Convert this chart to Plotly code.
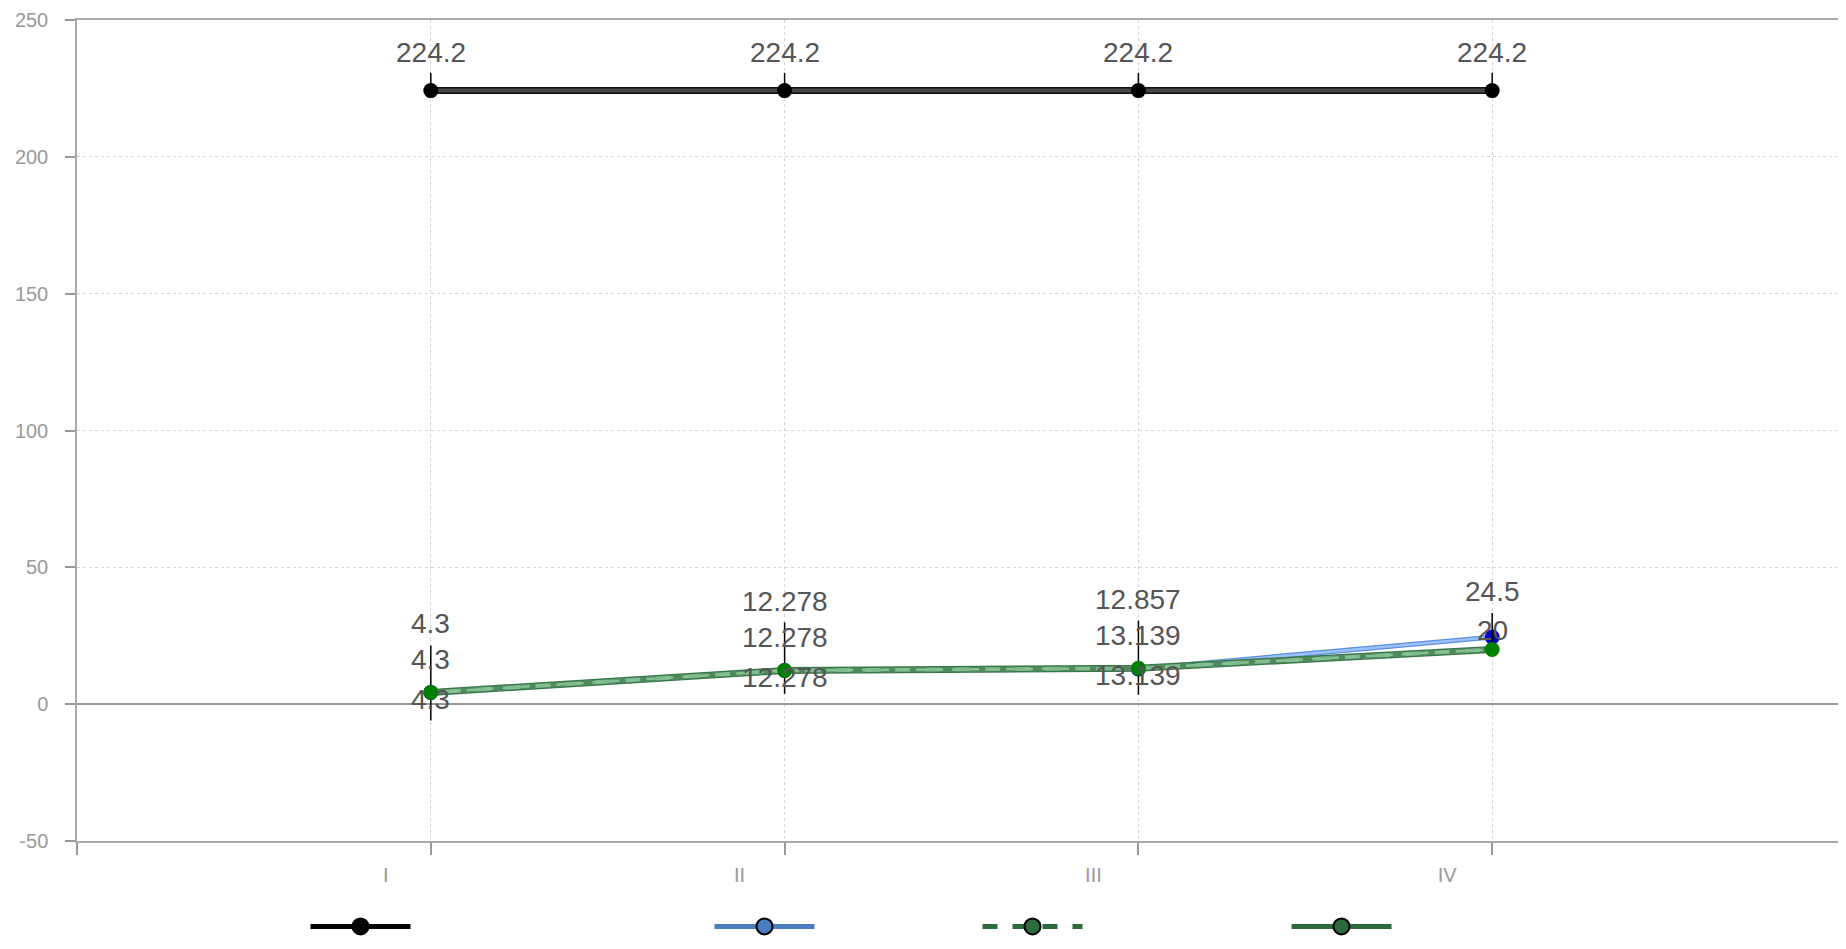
import plotly.graph_objects as go

categories = ["I", "II", "III", "IV"]
series_black = [224.2, 224.2, 224.2, 224.2]
series_blue = [4.3, 12.278, 12.857, 24.5]
series_green_dash = [4.3, 12.278, 13.139, 20]
series_green_solid = [4.3, 12.278, 13.139, 20]
solid_labels = ["4.3", "12.278", "13.139", None]

black_err_plus = [6.5, 6.5, 6.5, 6.5]
solid_err_plus = [17.1, 17.6, 17.4, 13.3]
solid_err_minus = [10.3, 8.5, 9.7, 0]

y_ticks = [-50, 0, 50, 100, 150, 200, 250]
y_ticktext = ["-50", "0", "50", "100", "150", "200", "250"]

xs = list(range(len(categories)))

fig = go.Figure()

# black series: dark border + gray core
fig.add_trace(go.Scatter(x=xs, y=series_black, mode="lines", line=dict(color="#111", width=7),
                         showlegend=False, hoverinfo="skip"))
fig.add_trace(go.Scatter(x=xs, y=series_black, mode="lines+markers", line=dict(color="#474747", width=4),
                         marker=dict(color="black", size=15),
                         error_y=dict(type="data", array=black_err_plus, arrayminus=[0]*4,
                                      color="black", thickness=1.5, width=0),
                         showlegend=False))

# blue series
fig.add_trace(go.Scatter(x=xs, y=series_blue, mode="lines", line=dict(color="#5b8fe0", width=5),
                         showlegend=False, hoverinfo="skip"))
fig.add_trace(go.Scatter(x=xs, y=series_blue, mode="lines+markers", line=dict(color="#9cc0fa", width=2.5),
                         marker=dict(color="#0000c8", size=15), showlegend=False))

# solid green
fig.add_trace(go.Scatter(x=xs, y=series_green_solid, mode="lines", line=dict(color="#3a7548", width=7),
                         showlegend=False, hoverinfo="skip"))
fig.add_trace(go.Scatter(x=xs, y=series_green_solid, mode="lines", line=dict(color="#80bb8e", width=4),
                         error_y=dict(type="data", array=solid_err_plus, arrayminus=solid_err_minus,
                                      color="black", thickness=1.5, width=0),
                         showlegend=False))

# dashed green
fig.add_trace(go.Scatter(x=xs, y=series_green_dash, mode="lines", line=dict(color="#4e8a5c", width=5, dash="dash"),
                         showlegend=False, hoverinfo="skip"))
fig.add_trace(go.Scatter(x=xs, y=series_green_dash, mode="lines+markers",
                         line=dict(color="#86c093", width=2.5, dash="dash"),
                         marker=dict(color="#008000", size=15), showlegend=False))

# legend-only entries
legend_specs = [
    ("legend", dict(color="black", width=5, dash="solid"), "black"),
    ("legend2", dict(color="#4a7cc0", width=5, dash="solid"), "#4a7cc0"),
    ("legend3", dict(color="#2e6b3c", width=5, dash="dash"), "#2e6b3c"),
    ("legend4", dict(color="#2e6b3c", width=5, dash="solid"), "#2e6b3c"),
]
for lg, ln, mc in legend_specs:
    fig.add_trace(go.Scatter(x=[None], y=[None], mode="lines+markers", name=" ", line=ln,
                             marker=dict(color=mc, size=20, line=dict(color="black", width=2)),
                             legend=lg, showlegend=True))

# data labels
lab_font = dict(family="Liberation Sans, Arial, sans-serif", size=28, color="#555")
for i, v in enumerate(series_black):
    fig.add_annotation(x=xs[i], y=v, text=str(v), showarrow=False, yshift=38, font=lab_font)
blue_shift = [69, 69, 69, 46]
for i, v in enumerate(series_blue):
    fig.add_annotation(x=xs[i], y=v, text=str(v), showarrow=False, yshift=blue_shift[i], font=lab_font)
dash_shift = [33, 33, 33, 19]
for i, v in enumerate(series_green_dash):
    fig.add_annotation(x=xs[i], y=v, text=str(v), showarrow=False, yshift=dash_shift[i], font=lab_font)
for i, v in enumerate(series_green_solid):
    if solid_labels[i]:
        fig.add_annotation(x=xs[i], y=v, text=solid_labels[i], showarrow=False, yshift=-7, font=lab_font)

tick_font = dict(family="Liberation Sans, Arial, sans-serif", size=20, color="#999")

fig.update_layout(
    width=1838, height=933,
    margin=dict(l=69, r=0, t=12, b=94),
    plot_bgcolor="white", paper_bgcolor="white",
    xaxis=dict(range=[-1, 4], tickvals=[-1] + xs, ticktext=[""] + categories,
               showgrid=True, gridcolor="#d4d4d4", griddash="dot", gridwidth=1,
               showline=True, linecolor="#aaa", linewidth=1.5, mirror=True,
               ticks="outside", ticklen=12, tickcolor="#999", tickwidth=1.5,
               ticklabelshift=-45, ticklabelstandoff=3,
               tickfont=tick_font, zeroline=False),
    yaxis=dict(range=[-50, 250], tickvals=y_ticks, ticktext=y_ticktext,
               showgrid=True, gridcolor="#d4d4d4", griddash="dot", gridwidth=1,
               showline=True, linecolor="#aaa", linewidth=1.5,
               ticks="outside", ticklen=10, tickcolor="#999", tickwidth=1.5,
               ticklabelstandoff=13,
               tickfont=tick_font, zeroline=True, zerolinecolor="#999", zerolinewidth=1.5),
)

leg_common = dict(orientation="h", yanchor="middle", y=-0.104, xanchor="center",
                  itemwidth=100, bgcolor="rgba(0,0,0,0)", font=dict(size=12))
fig.update_layout(
    legend=dict(x=(361 - 73) / 1769, **leg_common),
    legend2=dict(x=(765 - 73) / 1769, **leg_common),
    legend3=dict(x=(1033 - 73) / 1769, **leg_common),
    legend4=dict(x=(1342 - 73) / 1769, **leg_common),
)

fig.write_html("out.html")
